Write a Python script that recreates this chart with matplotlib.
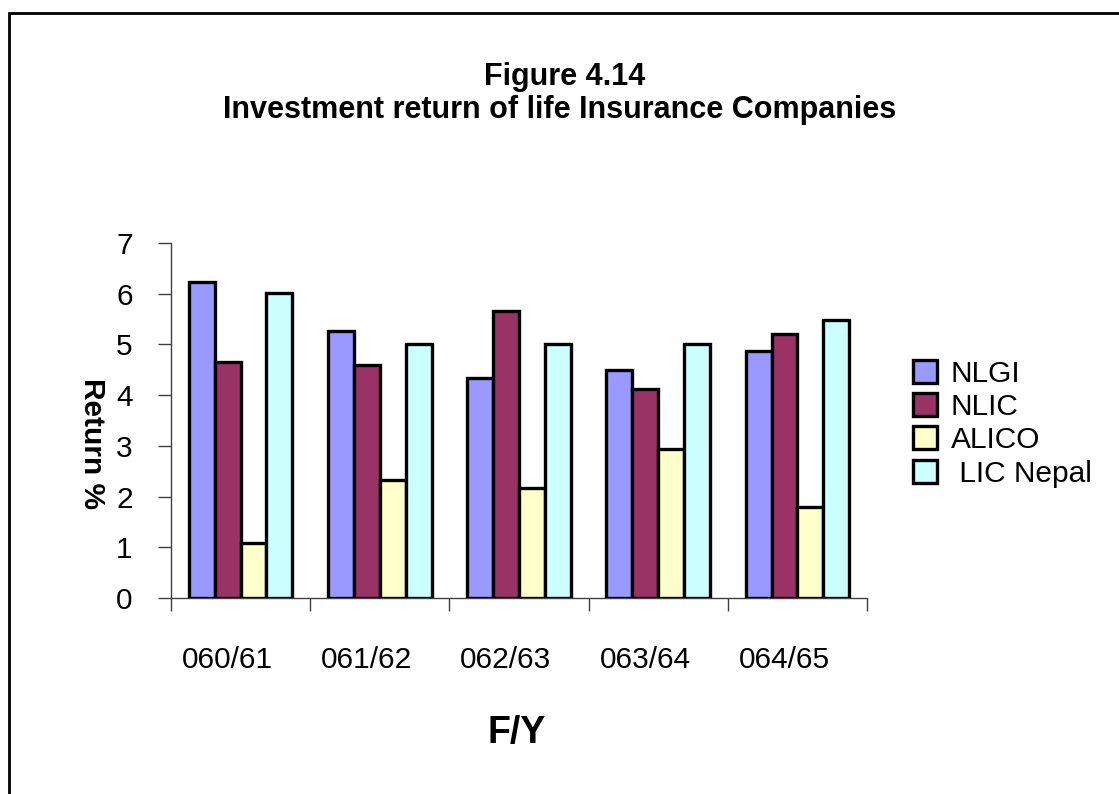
import numpy as np
import matplotlib
matplotlib.use('Agg')
import matplotlib.pyplot as plt
from matplotlib.patches import Rectangle, Patch

plt.rcParams['font.family'] = ['Liberation Sans', 'DejaVu Sans']

# data
years = ['060/61', '061/62', '062/63', '063/64', '064/65']
companies = ['NLGI', 'NLIC', 'ALICO', ' LIC Nepal']
nlgi = [6.23, 5.27, 4.34, 4.49, 4.87]
nlic = [4.66, 4.60, 5.65, 4.12, 5.20]
alico = [1.08, 2.33, 2.17, 2.93, 1.79]
lic_nepal = [6.02, 5.00, 5.00, 5.00, 5.48]
colors = ['#9999FF', '#993366', '#FFFFCC', '#CCFFFF']

series = [nlgi, nlic, alico, lic_nepal]

fig = plt.figure(figsize=(11.19, 7.94), dpi=100)
ax = fig.add_axes([0.1528, 0.2465, 0.622, 0.4478])

x = np.arange(len(years))
w = 0.186
for i, (vals, c) in enumerate(zip(series, colors)):
    ax.bar(x - 1.5 * w + i * w, vals, width=w, color=c, edgecolor='black',
           linewidth=2.4, zorder=3)

ax.set_xlim(-0.5, len(years) - 0.5)
ax.set_ylim(0, 7)
ax.set_yticks(range(0, 8))
ax.tick_params(axis='y', length=9.5, width=1, color='#404040', labelsize=21.5, pad=18)

# category labels sit a little left of centre, tick marks on group boundaries
ax.set_xticks(x - 0.095)
ax.set_xticklabels(years)
ax.tick_params(axis='x', which='major', length=0, labelsize=21.5, pad=34)
ax.set_xticks(np.arange(-0.5, len(years)), minor=True)
ax.tick_params(axis='x', which='minor', length=9, width=1, color='#404040')

for s in ['top', 'right']:
    ax.spines[s].set_visible(False)
for s in ['left', 'bottom']:
    ax.spines[s].set_color('#404040')
    ax.spines[s].set_linewidth(1)

fig.text(0.082, 0.442, 'Return %', rotation=-90, fontsize=21.5, fontweight='bold',
         ha='center', va='center')
fig.text(0.462, 0.077, 'F/Y', fontsize=27, fontweight='bold', ha='center', va='center')

fig.text(0.505, 0.903, 'Figure 4.14', fontsize=22, fontweight='bold',
         ha='center', va='center')
fig.text(0.5, 0.861, 'Investment return of life Insurance Companies', fontsize=22,
         fontweight='bold', ha='center', va='center')

handles = [Patch(facecolor=c, edgecolor='black', linewidth=2.4) for c in colors]
fig.legend(handles, companies, loc='upper left', bbox_to_anchor=(0.803, 0.566),
           frameon=False, fontsize=21.5, borderpad=0, handlelength=0.8,
           handleheight=0.8, handletextpad=0.45, labelspacing=0.18)

fig.add_artist(Rectangle((0.008, -0.2), 1.2, 1.183, transform=fig.transFigure,
                         fill=False, edgecolor='black', linewidth=2))

fig.savefig('out.png', dpi=100, facecolor='white')
